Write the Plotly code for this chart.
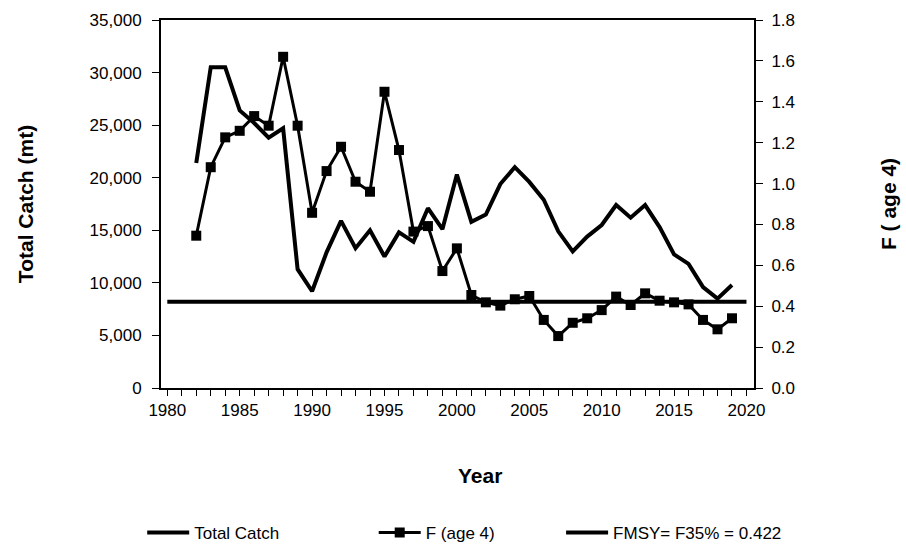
import plotly.graph_objects as go

# ---- data ----
years = list(range(1982, 2020))
total_catch = [21400, 30500, 30500, 26400, 25200, 23800, 24700, 11300, 9200, 12900,
               15900, 13300, 15000, 12500, 14800, 13900, 17100, 15100, 20300, 15800,
               16500, 19400, 21000, 19600, 17900, 14900, 13000, 14400, 15500, 17400,
               16200, 17400, 15300, 12700, 11800, 9600, 8500, 9800]
f_age4 = [0.745, 1.080, 1.226, 1.258, 1.330, 1.283, 1.620, 1.283, 0.857, 1.061,
          1.180, 1.009, 0.960, 1.449, 1.164, 0.765, 0.792, 0.572, 0.683, 0.455,
          0.419, 0.403, 0.434, 0.450, 0.333, 0.254, 0.319, 0.341, 0.381, 0.447,
          0.406, 0.463, 0.427, 0.419, 0.409, 0.333, 0.287, 0.341]
fmsy_years = [1980, 2020]
fmsy_value = 0.422
fmsy_label = "FMSY= F35% = 0.422"

FONT = "Liberation Sans, Arial, sans-serif"

fig = go.Figure()
fig.add_trace(go.Scatter(
    x=years, y=total_catch, name="Total Catch", mode="lines",
    line=dict(color="black", width=4), legend="legend"))
fig.add_trace(go.Scatter(
    x=years, y=f_age4, name="F (age 4)", mode="lines+markers", yaxis="y2",
    line=dict(color="black", width=3),
    marker=dict(symbol="square", size=10, color="black"), legend="legend2"))
fig.add_trace(go.Scatter(
    x=fmsy_years, y=[fmsy_value] * len(fmsy_years), name=fmsy_label, mode="lines",
    yaxis="y2", line=dict(color="black", width=4), legend="legend3"))

leg_common = dict(orientation="h", xanchor="left", yanchor="top", y=-0.345,
                  font=dict(family=FONT, size=17, color="black"),
                  bgcolor="rgba(0,0,0,0)", borderwidth=0, itemwidth=42)

fig.update_layout(
    width=906, height=544,
    margin=dict(l=161, r=152, t=20, b=156, autoexpand=False),
    paper_bgcolor="white", plot_bgcolor="white",
    font=dict(family=FONT, size=17, color="black"),
    showlegend=True,
    legend=dict(x=-0.0317, **leg_common),
    legend2=dict(x=0.3587, **leg_common),
    legend3=dict(x=0.6747, **leg_common),
    xaxis=dict(
        range=[1979.565, 2020.52], tickmode="linear", tick0=1980, dtick=5,
        showline=True, linecolor="black", linewidth=2, mirror=True,
        ticks="outside", ticklen=6, tickwidth=1, tickcolor="black",
        minor=dict(dtick=1, tick0=1980, ticks="outside", ticklen=6, tickwidth=1,
                   tickcolor="black"),
        showgrid=False, zeroline=False, ticklabelstandoff=0, automargin=False,
        tickfont=dict(size=17)),
    yaxis=dict(
        range=[0, 35000], tickmode="linear", tick0=0, dtick=5000, tickformat=",",
        showline=True, linecolor="black", linewidth=2,
        ticks="outside", ticklen=7, tickwidth=1, tickcolor="black",
        showgrid=False, zeroline=False, ticklabelstandoff=7, automargin=False,
        tickfont=dict(size=17),
        title=dict(text="<b>Total Catch (mt)</b>", font=dict(size=21), standoff=50)),
    yaxis2=dict(
        range=[0, 1.8], tickmode="linear", tick0=0, dtick=0.2, tickformat=".1f",
        overlaying="y", side="right",
        showline=True, linecolor="black", linewidth=2,
        ticks="outside", ticklen=7, tickwidth=1, tickcolor="black",
        showgrid=False, zeroline=False, ticklabelstandoff=5, automargin=False,
        tickfont=dict(size=17),
        title=dict(text="<b>F ( age 4)</b>", font=dict(size=21), standoff=87)),
    annotations=[dict(
        text="<b>Year</b>", xref="paper", yref="paper", x=0.538, y=-0.239,
        xanchor="center", yanchor="middle", showarrow=False,
        font=dict(family=FONT, size=21, color="black"))],
)

# remove the browser's default 8px body margin so the figure sits at (0, 0)
fig.write_html("out.html",
               config={"displayModeBar": False},
               post_script="document.body.style.margin='0px';"
                           "document.body.style.overflow='hidden';")
